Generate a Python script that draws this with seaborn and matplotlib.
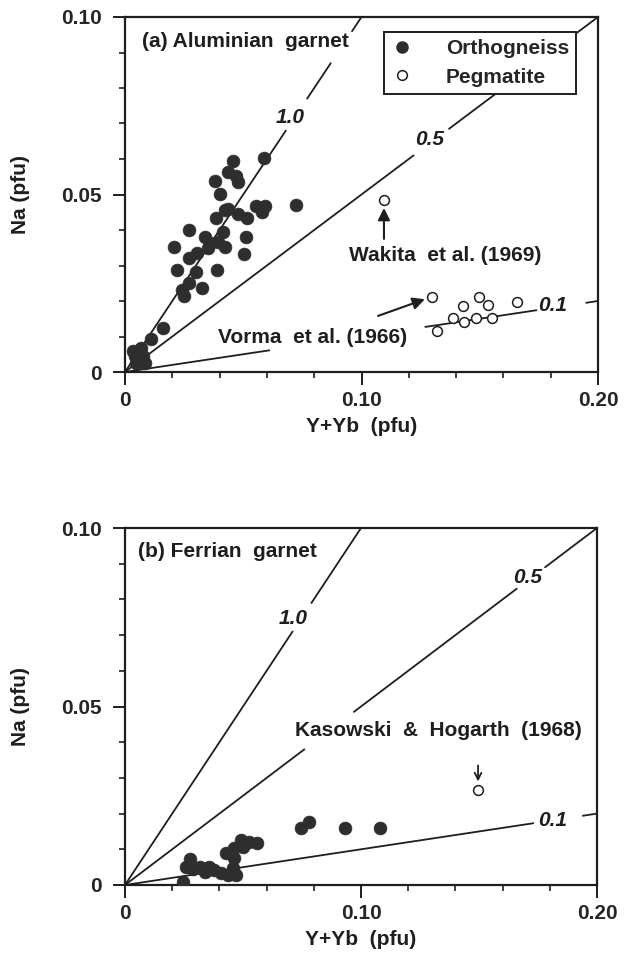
import matplotlib
matplotlib.use("Agg")
import matplotlib.pyplot as plt
from matplotlib.lines import Line2D
import seaborn as sns
import pandas as pd

sns.set_theme(style="white")
plt.rcParams['font.family'] = ['Liberation Sans', 'DejaVu Sans']
plt.rcParams['font.weight'] = 'bold'

# ---------------- data ----------------
a_ortho_x = [0.0455, 0.0586, 0.0434, 0.0469, 0.0476, 0.0379, 0.0400, 0.0434, 0.0476, 0.0517,
             0.0552, 0.0593, 0.0579, 0.0724, 0.0383, 0.0269, 0.0414, 0.0338, 0.0510, 0.0393,
             0.0207, 0.0352, 0.0421, 0.0303, 0.0269, 0.0503, 0.0221, 0.0300, 0.0388, 0.0269,
             0.0241, 0.0324, 0.0248, 0.0159, 0.0110, 0.0069, 0.0041, 0.0076, 0.0048, 0.0083,
             0.0034, 0.0359, 0.0421]
a_ortho_y = [0.0593, 0.0603, 0.0563, 0.0553, 0.0535, 0.0539, 0.0502, 0.0460, 0.0446, 0.0435,
             0.0469, 0.0469, 0.0450, 0.0471, 0.0435, 0.0401, 0.0394, 0.0380, 0.0380, 0.0366,
             0.0352, 0.0348, 0.0352, 0.0334, 0.0320, 0.0332, 0.0287, 0.0282, 0.0287, 0.0250,
             0.0231, 0.0238, 0.0214, 0.0123, 0.0093, 0.0067, 0.0044, 0.0044, 0.0025, 0.0025,
             0.0058, 0.0362, 0.0455]
a_peg_x = [0.1300, 0.1318, 0.1388, 0.1431, 0.1433, 0.1484, 0.1498, 0.1536, 0.1550, 0.1656, 0.1095]
a_peg_y = [0.0210, 0.0115, 0.0151, 0.0187, 0.0142, 0.0153, 0.0212, 0.0189, 0.0151, 0.0196, 0.0485]

b_ortho_x = [0.0246, 0.0274, 0.0260, 0.0288, 0.0316, 0.0337, 0.0358, 0.0379, 0.0407, 0.0435,
             0.0470, 0.0456, 0.0428, 0.0463, 0.0463, 0.0491, 0.0526, 0.0561, 0.0498, 0.0744,
             0.0779, 0.0933, 0.1081]
b_ortho_y = [0.0009, 0.0073, 0.0051, 0.0045, 0.0051, 0.0037, 0.0051, 0.0042, 0.0033, 0.0028,
             0.0028, 0.0047, 0.0089, 0.0075, 0.0103, 0.0126, 0.0120, 0.0117, 0.0107, 0.0159,
             0.0177, 0.0159, 0.0159]
b_peg_x = [0.1496]
b_peg_y = [0.0266]

# Na/(Y+Yb) ratio reference lines, drawn over these x-intervals
ratios = [1.0, 0.5, 0.1]
ratio_labels = ["1.0", "0.5", "0.1"]
a_ratio_segments = [[(0, 0.068), (0.077, 0.087), (0.096, 0.100)],
                    [(0, 0.122), (0.137, 0.200)],
                    [(0, 0.061), (0.127, 0.174), (0.195, 0.200)]]
a_ratio_label_pos = [(0.0700, 0.0718), (0.1290, 0.0655), (0.1810, 0.0186)]
b_ratio_segments = [[(0, 0.071), (0.079, 0.100)],
                    [(0, 0.076), (0.097, 0.166), (0.178, 0.200)],
                    [(0, 0.173), (0.194, 0.200)]]
b_ratio_label_pos = [(0.0713, 0.0747), (0.1708, 0.0860), (0.1810, 0.0180)]

x_major = [0, 0.10, 0.20]
x_major_labels = ["0", "0.10", "0.20"]
x_minor = [0.02, 0.04, 0.06, 0.08, 0.12, 0.14, 0.16, 0.18]
y_major = [0, 0.05, 0.10]
y_major_labels = ["0", "0.05", "0.10"]
y_minor = [0.01, 0.02, 0.03, 0.04, 0.06, 0.07, 0.08, 0.09]

FS = 15
INK = "#1e1e1e"
DOT = "#2e2e2e"

fig = plt.figure(figsize=(6.3, 9.57), dpi=100)
ax1 = fig.add_axes([125 / 630, 1 - 372 / 957, 473 / 630, 355 / 957])
ax2 = fig.add_axes([125 / 630, 1 - 885 / 957, 472 / 630, 357 / 957])


def style_axes(ax):
    ax.set_xlim(0, 0.20)
    ax.set_ylim(0, 0.10)
    ax.set_xticks(x_major, x_major_labels)
    ax.set_xticks(x_minor, minor=True)
    ax.set_yticks(y_major, y_major_labels)
    ax.set_yticks(y_minor, minor=True)
    for sp in ax.spines.values():
        sp.set_linewidth(1.6)
        sp.set_color(INK)
    ax.tick_params(which='major', direction='out', length=9, width=1.4, color=INK,
                   labelsize=FS, bottom=True, left=True)
    ax.tick_params(which='minor', direction='out', length=4, width=1.2, color=INK,
                   bottom=True, left=True)
    ax.tick_params(axis='x', which='major', pad=5)
    ax.tick_params(axis='y', which='major', pad=8)
    for lab in ax.get_xticklabels() + ax.get_yticklabels():
        lab.set_fontweight('bold')
    ax.set_xlabel("Y+Yb  (pfu)", fontsize=FS, fontweight='bold', labelpad=5, color=INK)
    ax.set_ylabel("Na (pfu)", fontsize=FS, fontweight='bold', labelpad=22, color=INK)
    ax.set_facecolor('white')


def draw_ratio_lines(ax, segs, label_pos):
    for r, seg_list, lab, pos in zip(ratios, segs, ratio_labels, label_pos):
        for x0, x1 in seg_list:
            sns.lineplot(x=[x0, x1], y=[r * x0, r * x1], ax=ax, color=INK, lw=1.3,
                         zorder=2, legend=False)
        ax.text(pos[0], pos[1], lab, fontsize=FS, fontstyle='italic', fontweight='bold',
                ha='center', va='center', color=INK, zorder=3)


def draw_points(ax, ox, oy, px, py):
    sns.scatterplot(x=ox, y=oy, ax=ax, s=85, color=DOT, edgecolor=DOT, linewidth=0.5,
                    zorder=5, legend=False)
    sns.scatterplot(x=px, y=py, ax=ax, s=50, facecolor='white', edgecolor=INK,
                    linewidth=1.1, zorder=5, legend=False)


# ---------------- panel (a) ----------------
style_axes(ax1)
draw_ratio_lines(ax1, a_ratio_segments, a_ratio_label_pos)
draw_points(ax1, a_ortho_x, a_ortho_y, a_peg_x, a_peg_y)
ax1.text(0.0072, 0.0930, "(a) Aluminian  garnet", fontsize=FS, fontweight='bold',
         ha='left', va='center', color=INK, zorder=6)
ax1.text(0.1353, 0.0327, "Wakita  et al. (1969)", fontsize=FS, fontweight='bold',
         ha='center', va='center', color=INK, zorder=6)
ax1.annotate("", xy=(0.1095, 0.0462), xytext=(0.1095, 0.0375),
             arrowprops=dict(arrowstyle='-|>', color=INK, lw=1.5, mutation_scale=18,
                             shrinkA=0, shrinkB=0), zorder=6)
ax1.text(0.0795, 0.0096, "Vorma  et al. (1966)", fontsize=FS, fontweight='bold',
         ha='center', va='center', color=INK, zorder=6)
ax1.annotate("", xy=(0.1268, 0.0205), xytext=(0.1070, 0.0158),
             arrowprops=dict(arrowstyle='-|>', color=INK, lw=1.5, mutation_scale=18,
                             shrinkA=0, shrinkB=0), zorder=6)

handles = [Line2D([], [], marker='o', ls='none', markersize=8, color=DOT, markeredgecolor=DOT),
           Line2D([], [], marker='o', ls='none', markersize=7, markerfacecolor='white',
                  markeredgecolor=INK, markeredgewidth=1.1)]
leg = ax1.legend(handles, ["Orthogneiss", "Pegmatite"], loc='upper left',
                 bbox_to_anchor=(0.548, 0.958), borderaxespad=0, fancybox=False,
                 framealpha=1, edgecolor=INK, fontsize=FS, handlelength=1.0,
                 handletextpad=1.6, borderpad=0.35, labelspacing=0.45,
                 prop={'weight': 'bold', 'size': FS})
leg.get_frame().set_linewidth(1.4)
leg.set_zorder(7)

# ---------------- panel (b) ----------------
style_axes(ax2)
draw_ratio_lines(ax2, b_ratio_segments, b_ratio_label_pos)
draw_points(ax2, b_ortho_x, b_ortho_y, b_peg_x, b_peg_y)
ax2.text(0.0055, 0.0935, "(b) Ferrian  garnet", fontsize=FS, fontweight='bold',
         ha='left', va='center', color=INK, zorder=6)
ax2.text(0.1326, 0.0434, "Kasowski  &  Hogarth  (1968)", fontsize=FS, fontweight='bold',
         ha='center', va='center', color=INK, zorder=6)
ax2.annotate("", xy=(0.1496, 0.0290), xytext=(0.1496, 0.0335),
             arrowprops=dict(arrowstyle='->', color=INK, lw=1.3, mutation_scale=12,
                             shrinkA=0, shrinkB=0), zorder=6)

fig.savefig("out.png", dpi=100, facecolor='white')
